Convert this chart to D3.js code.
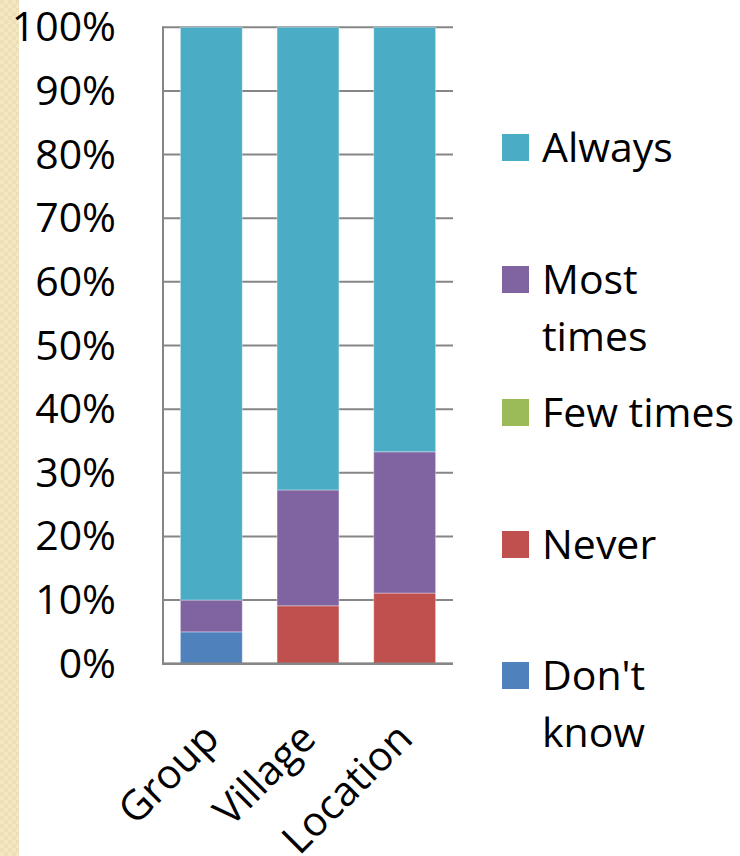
<!DOCTYPE html>
<html><head><meta charset="utf-8">
<script src="https://cdn.jsdelivr.net/npm/d3@7"></script>
<style>body{margin:0;background:#fff}svg{display:block}</style>
</head><body>
<script>
const categories = ["Group", "Village", "Location"];
const seriesNames = ["Don't know", "Never", "Few times", "Most times", "Always"];
const dontKnow  = [5, 0, 0];
const never     = [0, 9.1, 11.1];
const fewTimes  = [0, 0, 0];
const mostTimes = [5, 18.2, 22.2];
const always    = [90, 72.7, 66.7];
const yTicks = [0, 10, 20, 30, 40, 50, 60, 70, 80, 90, 100];
const colors = ["#4f81bd", "#c0504d", "#9bbb59", "#8064a2", "#4bacc6"];
const legendOrder = ["Always", "Most times", "Few times", "Never", "Don't know"];
const legendLines = {"Always":["Always"], "Most times":["Most","times"], "Few times":["Few times"], "Never":["Never"], "Don't know":["Don't","know"]};

const W = 740, H = 856;
const svg = d3.select("body").append("svg").attr("width", W).attr("height", H);
const font = "'Open Sans', sans-serif";
const fs = 41;

// left decorative strip
const defs = svg.append("defs");
const pat = defs.append("pattern").attr("id","chk").attr("width",8).attr("height",8).attr("patternUnits","userSpaceOnUse");
pat.append("rect").attr("width",8).attr("height",8).attr("fill","#f3e6c2");
pat.append("rect").attr("width",4).attr("height",4).attr("fill","#efdfb4");
pat.append("rect").attr("x",4).attr("y",4).attr("width",4).attr("height",4).attr("fill","#efdfb4");
svg.append("rect").attr("x",0).attr("y",0).attr("width",19).attr("height",H).attr("fill","url(#chk)");

const m = {left:163, right:453, top:27.3, bottom:663.7};
const x = d3.scaleBand().domain(categories).range([m.left, m.right]).paddingInner(0.36).paddingOuter(0.18);
const y = d3.scaleLinear().domain([0,100]).range([m.bottom, m.top]);

const rows = categories.map((c,i)=>({cat:c, "Don't know":dontKnow[i], "Never":never[i], "Few times":fewTimes[i], "Most times":mostTimes[i], "Always":always[i]}));
const stacked = d3.stack().keys(seriesNames)(rows);
const color = d3.scaleOrdinal().domain(seriesNames).range(colors);

// gridlines
svg.append("g").selectAll("line").data(yTicks).join("line")
  .attr("x1", m.left).attr("x2", m.right)
  .attr("y1", d=>y(d)).attr("y2", d=>y(d))
  .attr("stroke", "#868686").attr("stroke-width", 2);

// bars
svg.append("g").selectAll("g").data(stacked).join("g")
  .attr("fill", d=>color(d.key))
  .selectAll("rect").data(d=>d.filter(p=>p[1]-p[0]>0)).join("rect")
  .attr("x", d=>x(d.data.cat)).attr("width", x.bandwidth())
  .attr("y", d=>y(d[1])).attr("height", d=>y(d[0])-y(d[1]))
  .attr("stroke", "rgba(255,255,255,0.35)").attr("stroke-width", 1);

// axis lines
svg.append("line").attr("x1", m.left).attr("x2", m.left).attr("y1", m.top-1).attr("y2", m.bottom+1)
  .attr("stroke","#868686").attr("stroke-width",2);
svg.append("line").attr("x1", m.left-1).attr("x2", m.right).attr("y1", m.bottom).attr("y2", m.bottom)
  .attr("stroke","#868686").attr("stroke-width",2.5);

// y labels
svg.append("g").selectAll("text").data(yTicks).join("text")
  .attr("x", 116).attr("y", d=>y(d)+14)
  .attr("text-anchor","end").attr("font-family",font).attr("font-size",fs).attr("fill","#000")
  .text(d=>d+"%");

// x labels
svg.append("g").selectAll("text").data(categories).join("text")
  .attr("transform", d=>`translate(${x(d)+x.bandwidth()/2+10},${m.bottom+77}) rotate(-45)`)
  .attr("text-anchor","end").attr("font-family",font).attr("font-size",fs).attr("fill","#000")
  .text(d=>d);

// legend
const legTops = [134, 266, 399, 531, 662];
const lg = svg.append("g");
legendOrder.forEach((k,i)=>{
  const t = legTops[i];
  lg.append("rect").attr("x",502).attr("y",t).attr("width",27).attr("height",27).attr("fill",color(k));
  const txt = lg.append("text").attr("x",542).attr("y",t+28).attr("font-family",font).attr("font-size",fs).attr("fill","#000");
  legendLines[k].forEach((ln,j)=>{
    txt.append("tspan").attr("x",542).attr("dy", j===0?0:57).text(ln);
  });
});
</script>
</body></html>
